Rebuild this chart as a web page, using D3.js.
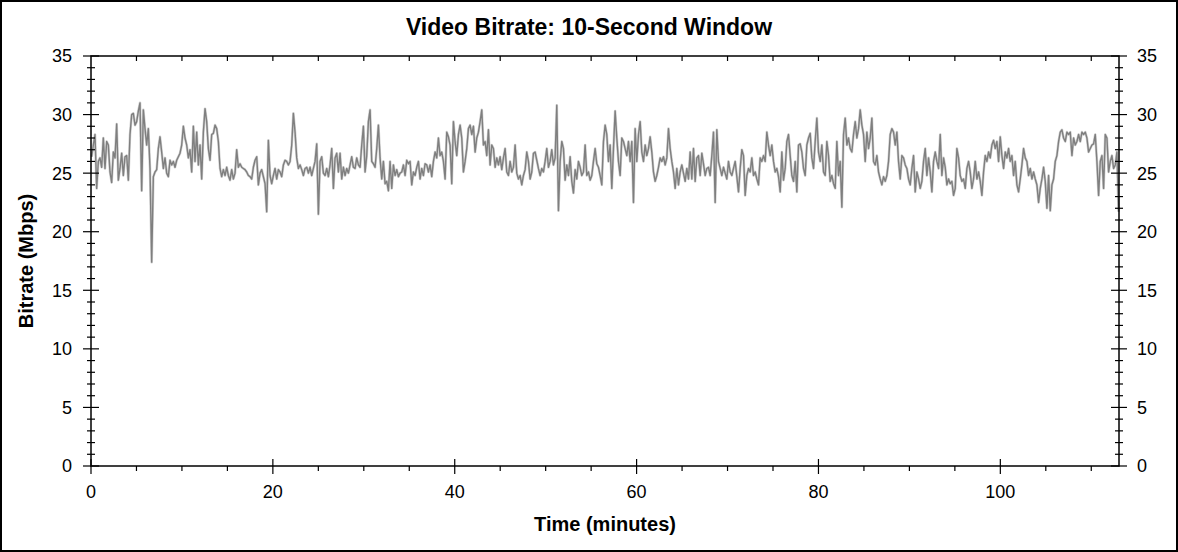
<!DOCTYPE html>
<html>
<head>
<meta charset="utf-8">
<script src="https://cdn.jsdelivr.net/npm/d3@7"></script>
<style>
  body { margin: 0; background: #fff; }
  svg { display: block; font-family: "Liberation Sans", Arial, sans-serif; }
</style>
</head>
<body>
<div id="chart"></div>
<script>
// bitrate (Mbps), one reading every 11 s in four stretches
const startMinute = 0.073;
const stepMinutes = 11 / 60;

const bitrate0to29 = [
  26.4,27.4,28.3,23.7,26.0,26.3,25.5,28.0,25.4,27.7,
  27.4,25.1,24.2,26.8,26.3,29.2,24.4,25.4,26.7,24.8,
  26.4,26.5,24.4,28.3,30.0,30.1,29.1,29.4,30.3,31.0,
  23.5,30.4,28.8,27.4,28.8,25.4,17.4,24.7,25.1,25.3,
  27.1,28.1,26.8,25.4,26.3,25.0,24.7,26.1,25.7,26.0,
  25.5,26.1,26.4,26.7,27.4,29.0,28.0,27.4,26.3,27.0,
  25.1,29.0,26.0,28.5,25.7,27.4,24.5,28.5,30.5,29.4,
  27.1,26.1,28.3,28.4,29.1,28.8,27.7,25.4,24.7,25.3,
  24.8,25.5,24.8,24.4,25.3,24.5,25.0,27.0,25.5,25.8,
  25.5,25.4,25.3,25.1,24.8,24.7,24.5,25.5,26.1,26.4,
  24.0,25.0,25.3,24.7,24.1,21.7,27.8,24.8,24.1,24.8,
  25.4,24.5,25.3,25.1,24.7,25.7,26.1,26.0,25.7,26.0,
  27.4,30.1,28.5,26.3,25.4,25.7,25.3,24.8,25.4,25.5,
  25.0,25.5,24.8,25.4,26.0,27.5,21.5,26.0,26.4,25.0,
  24.8,25.4,24.7,25.7,27.1,23.7,26.3,26.7,25.1,26.7,
  24.5,25.5,24.8,25.4,25.0,25.7,26.4,25.5,25.4
];

const bitrate29to59 = [
  26.3,25.7,25.5,27.4,29.0,25.1,26.5,29.4,30.4,26.0,
  25.8,25.5,27.1,29.1,26.3,24.5,26.0,24.1,24.3,23.5,
  26.0,23.7,25.7,24.8,25.3,24.7,25.0,25.1,25.7,24.8,
  26.1,25.8,26.0,24.0,25.1,24.8,25.5,26.0,24.5,25.4,
  24.8,25.8,25.7,25.1,25.7,24.7,26.0,26.8,26.3,28.0,
  26.5,26.8,26.0,24.5,28.5,28.1,27.4,24.1,29.4,27.7,
  26.5,28.3,29.1,28.0,25.1,26.0,27.1,28.8,29.1,28.3,
  29.0,26.8,28.0,28.5,29.4,30.4,27.4,27.7,26.5,28.7,
  25.7,27.4,27.1,25.5,26.3,25.7,26.4,25.3,26.3,27.1,
  25.1,24.8,26.0,25.1,25.5,27.4,25.0,24.5,24.8,24.0,
  24.8,25.3,26.8,26.0,24.5,25.1,26.7,26.8,26.1,25.4,
  24.8,25.4,25.1,26.0,27.1,25.5,26.0,27.0,25.7,26.3,
  30.8,21.8,26.0,27.7,27.1,24.4,25.7,24.8,26.4,24.3,
  23.3,25.3,24.5,26.0,25.5,24.8,25.1,27.4,24.8,25.1,
  24.4,24.8,26.0,27.1,25.8,25.5,24.8,24.0,27.7,29.1,
  28.3,26.0,27.4,23.7,27.1,30.3,28.0,26.0,24.8,28.0,
  27.7,27.1
];

const bitrate59to89 = [
  26.5,27.7,26.0,27.7,22.5,28.8,26.0,28.3,29.4,26.8,
  26.0,27.4,26.5,27.1,28.1,26.8,25.1,24.3,24.8,25.5,
  26.3,26.0,26.4,25.7,26.3,28.8,27.1,26.0,25.1,23.7,
  25.4,24.0,25.1,25.7,25.0,24.3,25.4,24.5,26.8,24.5,
  27.1,24.3,26.3,26.5,24.8,26.7,25.8,24.8,25.4,25.5,
  24.8,26.5,28.5,22.5,28.7,26.0,25.4,24.8,25.5,25.0,
  24.5,26.0,25.1,24.8,25.4,26.0,24.7,23.4,25.4,27.0,
  26.5,23.1,24.8,25.4,25.1,26.3,24.8,25.1,24.5,24.0,
  26.3,26.0,26.5,26.0,28.5,27.4,26.5,27.4,26.0,25.1,
  25.4,24.7,23.4,26.8,24.4,25.4,27.7,28.3,26.5,24.8,
  24.3,26.0,23.4,27.4,27.5,26.8,25.4,24.8,27.4,28.0,
  28.4,26.3,25.4,27.7,29.7,26.8,26.0,27.4,25.1,24.8,
  27.7,26.5,24.3,24.8,24.1,23.7,27.7,24.8,26.0,22.1,
  28.3,29.7,27.4,28.0,27.1,26.8,28.3,29.4,28.0,28.8,
  30.4,29.1,28.3,26.0,28.5,27.1,28.0,29.7,26.0,25.7,
  26.5,25.1,24.5,24.0,24.7,24.3,24.8,26.0,28.3,28.8,
  28.5,27.4
];

const bitrate89to113 = [
  28.5,26.0,24.5,26.5,26.3,25.7,25.4,24.5,24.0,25.4,
  26.5,23.4,25.1,24.5,23.7,24.3,26.0,27.1,24.8,26.3,
  25.1,23.4,26.0,26.8,26.0,25.4,28.3,24.8,26.3,25.5,
  24.0,24.5,24.1,24.3,23.1,23.7,27.1,26.3,24.8,24.3,
  24.5,23.7,25.4,26.0,25.1,23.7,24.5,26.0,24.5,25.1,
  24.3,23.1,25.1,26.5,26.0,26.8,26.3,27.4,27.8,27.1,
  27.7,26.0,28.1,26.5,25.4,26.8,26.3,27.1,26.0,26.5,
  24.8,26.0,24.0,23.4,24.5,25.7,27.1,26.3,26.0,24.8,
  25.4,24.5,25.1,24.5,24.0,22.5,23.7,24.5,25.5,24.3,
  22.0,24.8,21.8,24.0,24.5,26.0,26.5,27.7,28.5,28.7,
  28.0,27.7,28.5,28.3,28.5,26.5,28.0,27.4,27.7,28.3,
  27.7,28.5,28.3,28.5,28.0,26.8,27.1,27.4,27.5,28.3,
  26.0,23.1,26.0,26.5,23.7,28.3,28.0,25.1,26.0,26.5,
  25.4,25.7,26.8,21.7
];

const xTickValues = [0, 20, 40, 60, 80, 100];
const yTickValues = [0, 5, 10, 15, 20, 25, 30, 35];
const xMax = 113.05;

const title = "Video Bitrate: 10-Second Window";
const xLabel = "Time (minutes)";
const yLabel = "Bitrate (Mbps)";

const width = 1178;
const height = 552;
const margin = { top: 56, right: 59, bottom: 86, left: 91 };
const innerWidth = width - margin.left - margin.right;
const innerHeight = height - margin.top - margin.bottom;

const bitrate = bitrate0to29.concat(bitrate29to59, bitrate59to89, bitrate89to113);
const points = bitrate.map((v, i) => ({ t: startMinute + i * stepMinutes, v: v }));

const xScale = d3.scaleLinear().domain([0, xMax]).range([0, innerWidth]);
const yScale = d3.scaleLinear().domain([0, 35]).range([innerHeight, 0]);

const svg = d3.select("#chart")
  .append("svg")
    .attr("width", width)
    .attr("height", height);

svg.append("rect")
    .attr("x", 1)
    .attr("y", 1)
    .attr("width", width - 2)
    .attr("height", height - 2)
    .attr("fill", "#fff")
    .attr("stroke", "#000")
    .attr("stroke-width", 2);

svg.append("text")
    .text(title)
    .attr("x", width / 2)
    .attr("y", 35)
    .attr("text-anchor", "middle")
    .style("font-size", "23px")
    .style("font-weight", 700);

const plot = svg.append("g")
    .attr("transform", `translate(${margin.left}, ${margin.top})`);

// the series: light envelope under a mid-grey trace
const lineGenerator = d3.line()
  .x(d => xScale(d.t))
  .y(d => yScale(d.v));

plot.append("path")
    .datum(points)
    .attr("d", lineGenerator)
    .attr("fill", "none")
    .attr("stroke", "#d2d2d2")
    .attr("stroke-width", 2.6)
    .attr("stroke-linejoin", "round");

plot.append("path")
    .datum(points)
    .attr("d", lineGenerator)
    .attr("fill", "none")
    .attr("stroke", "#7f7f7f")
    .attr("stroke-width", 1.4)
    .attr("stroke-linejoin", "round");

// frame
plot.append("rect")
    .attr("width", innerWidth)
    .attr("height", innerHeight)
    .attr("fill", "none")
    .attr("stroke", "#000")
    .attr("stroke-width", 1.5);

const tickStroke = sel => sel.attr("stroke", "#000").attr("stroke-width", 1.2);

// y ticks, left and right, crossing the frame
const yMinor = d3.range(0, 36, 1).filter(v => v % 5 !== 0);
[0, innerWidth].forEach(x0 => {
  plot.selectAll(null)
    .data(yMinor)
    .join("line")
      .attr("x1", x0 - 4).attr("x2", x0 + 4)
      .attr("y1", d => yScale(d)).attr("y2", d => yScale(d))
      .call(tickStroke);
  plot.selectAll(null)
    .data(yTickValues)
    .join("line")
      .attr("x1", x0 - 8).attr("x2", x0 + 8)
      .attr("y1", d => yScale(d)).attr("y2", d => yScale(d))
      .call(tickStroke);
});

plot.selectAll(null)
  .data(yTickValues)
  .join("text")
    .text(d => d)
    .attr("x", -19)
    .attr("y", d => yScale(d))
    .attr("dy", "0.36em")
    .attr("text-anchor", "end")
    .style("font-size", "18px");

plot.selectAll(null)
  .data(yTickValues)
  .join("text")
    .text(d => d)
    .attr("x", innerWidth + 18)
    .attr("y", d => yScale(d))
    .attr("dy", "0.36em")
    .attr("text-anchor", "start")
    .style("font-size", "18px");

// x ticks: bottom minor point down, major cross; top ones point inward
const xMinor = d3.range(5, xMax, 5).filter(v => v % 20 !== 0);
plot.selectAll(null)
  .data(xMinor)
  .join("line")
    .attr("x1", d => xScale(d)).attr("x2", d => xScale(d))
    .attr("y1", innerHeight).attr("y2", innerHeight + 5)
    .call(tickStroke);
plot.selectAll(null)
  .data(xTickValues)
  .join("line")
    .attr("x1", d => xScale(d)).attr("x2", d => xScale(d))
    .attr("y1", innerHeight - 7).attr("y2", innerHeight + 8)
    .call(tickStroke);
plot.selectAll(null)
  .data(d3.range(5, xMax, 5))
  .join("line")
    .attr("x1", d => xScale(d)).attr("x2", d => xScale(d))
    .attr("y1", 0).attr("y2", 5)
    .call(tickStroke);

plot.selectAll(null)
  .data(xTickValues)
  .join("text")
    .text(d => d)
    .attr("x", d => xScale(d))
    .attr("y", innerHeight + 32)
    .attr("text-anchor", "middle")
    .style("font-size", "18px");

svg.append("text")
    .text(xLabel)
    .attr("x", margin.left + innerWidth / 2)
    .attr("y", 531)
    .attr("text-anchor", "middle")
    .style("font-size", "20px")
    .style("font-weight", 700);

svg.append("text")
    .text(yLabel)
    .attr("transform", `translate(33, ${margin.top + innerHeight / 2}) rotate(-90)`)
    .attr("text-anchor", "middle")
    .style("font-size", "20px")
    .style("font-weight", 700);
</script>
</body>
</html>
